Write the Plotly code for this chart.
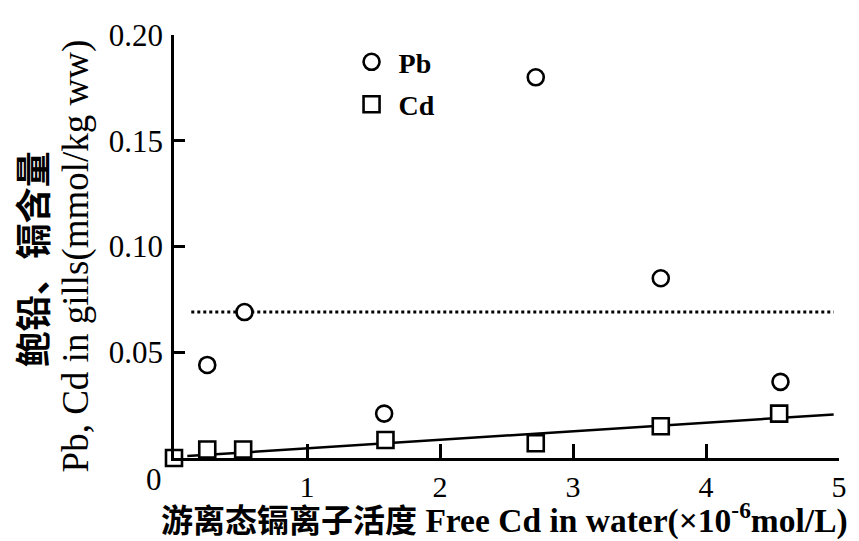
import plotly.graph_objects as go

# Pb and Cd in gills versus free Cd activity in water
pb_x = [0.25, 0.53, 1.58, 2.72, 3.66, 4.56]
pb_y = [0.044, 0.069, 0.021, 0.180, 0.085, 0.036]

cd_x = [0.0, 0.25, 0.52, 1.59, 2.72, 3.66, 4.55]
cd_y = [0.0, 0.004, 0.004, 0.0085, 0.007, 0.015, 0.021]

# linear fit for Cd, and the mean Pb level
fit_slope = 0.00405
fit_intercept = 0.0005
fit_x = [0.1, 4.96]
fit_y = [fit_intercept + fit_slope * v for v in fit_x]

pb_level = 0.069
level_x = [0.13, 4.96]

x_ticks = [1, 2, 3, 4, 5]
y_ticks = [0.05, 0.10, 0.15, 0.20]
y_tick_text = ["0.05", "0.10", "0.15", "0.20"]

SERIF = "Liberation Serif, Noto Sans CJK SC, serif"
CJK = "Noto Sans CJK SC, Liberation Serif, serif"

fig = go.Figure()

fig.add_trace(go.Scatter(
    x=level_x, y=[pb_level, pb_level], mode="lines",
    line=dict(color="black", width=3, dash="dot"),
    showlegend=False, hoverinfo="skip",
))
fig.add_trace(go.Scatter(
    x=fit_x, y=fit_y, mode="lines",
    line=dict(color="black", width=2.5),
    showlegend=False, hoverinfo="skip",
))
fig.add_trace(go.Scatter(
    x=pb_x, y=pb_y, mode="markers", name=" <b>Pb</b>", legendgroup="pb",
    marker=dict(symbol="circle", size=16, color="white",
                line=dict(color="black", width=2.6)),
    cliponaxis=False,
))
fig.add_trace(go.Scatter(
    x=cd_x, y=cd_y, mode="markers", name=" <b>Cd</b>", legendgroup="cd",
    marker=dict(symbol="square", size=16, color="white",
                line=dict(color="black", width=2.6)),
    cliponaxis=False,
))

axis_common = dict(
    showline=True, linecolor="black", linewidth=2.5,
    showgrid=False, zeroline=False, ticks="inside",
    tickcolor="black", tickwidth=2.5,
)

fig.update_xaxes(range=[0, 5], tickvals=x_ticks,
                 ticktext=[str(v) for v in x_ticks], ticklen=14,
                 tickfont=dict(family=SERIF, size=30, color="black"),
                 **axis_common)
fig.update_yaxes(range=[0, 0.2], tickvals=y_ticks, ticktext=y_tick_text,
                 ticklen=11, ticklabelstandoff=2,
                 tickfont=dict(family=SERIF, size=31, color="black"),
                 **axis_common)

annotations = [
    dict(text="0", x=0, y=0, xref="x", yref="y", xanchor="right",
         yanchor="top", xshift=-10, yshift=-2, showarrow=False,
         font=dict(family=SERIF, size=31, color="black")),
    dict(text="<b>鲍铅、镉含量</b>", x=-0.215, y=0.47, xref="paper",
         yref="paper", xanchor="center", yanchor="middle", textangle=-90,
         showarrow=False, font=dict(family=CJK, size=36, color="black")),
    dict(text="Pb, Cd in gills(mmol/kg ww)", x=-0.148, y=0.478,
         xref="paper", yref="paper", xanchor="center", yanchor="middle",
         textangle=-90, showarrow=False,
         font=dict(family=SERIF, size=37, color="black")),
    dict(text="<b><span style='font-family:Noto Sans CJK SC;font-size:32px'>游离态镉离子活度</span>"
              " Free Cd in water(×10<sup>-6</sup>mol/L)</b>",
         x=0.497, y=-0.2, xref="paper", yref="paper", xanchor="center",
         yanchor="bottom", showarrow=False,
         font=dict(family=SERIF, size=33.5, color="black")),
]

fig.update_layout(
    width=859, height=541,
    margin=dict(l=174, r=16, t=35, b=83),
    plot_bgcolor="white", paper_bgcolor="white",
    annotations=annotations,
    legend=dict(x=0.267, y=0.995, xanchor="left", yanchor="top",
                bgcolor="rgba(0,0,0,0)", borderwidth=0,
                tracegroupgap=3, traceorder="grouped",
                font=dict(family=SERIF, size=28, color="black")),
)

fig.write_html("out.html")
